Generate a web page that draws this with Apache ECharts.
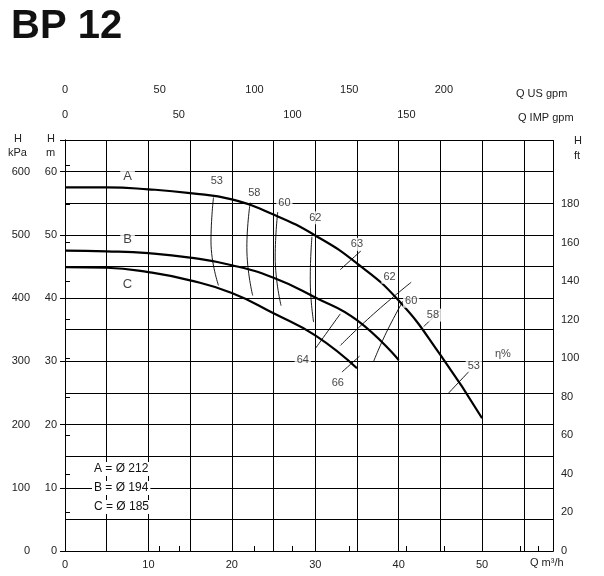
<!DOCTYPE html>
<html><head><meta charset="utf-8">
<script src="https://cdn.jsdelivr.net/npm/echarts@6/dist/echarts.min.js"></script>
<style>html,body{margin:0;background:#fff}#c{width:604px;height:576px}</style>
</head><body><div id="c"></div>
<script>
const curveA=[[0,57.5],[5,57.5],[10,57.2],[15,56.6],[20,55.6],[25,53.2],[30,49.9],[35,45.5],[40,39.6],[45,31],[50,21]];
const curveB=[[0,47.5],[5,47.4],[10,47.1],[15,46.4],[20,45.2],[25,43.2],[30,40.1],[35,36.5],[40,30.2]];
const curveC=[[0,44.9],[5,44.8],[10,44.1],[15,42.8],[20,40.8],[25,37.6],[30,34.1],[35,28.9]];
const eff53a=[[17.8,55.9],[17.5,49],[18.4,42]];
const eff58a=[[22.2,55.1],[21.8,48],[22.5,40.4]];
const eff60a=[[25.5,53.6],[25.2,46.5],[25.9,38.8]];
const eff62a=[[29.6,49.7],[29.4,43],[29.8,36.2]];
const eff63=[[33,44.5],[35.5,47.5]];
const eff64=[[30,32],[33,37.5]];
const eff66=[[33.2,28.3],[35.3,30.8]];
const eff62b=[[41.5,42.5],[37,37.5],[33,32.5]];
const eff60b=[[40.5,39.5],[38.5,34.5],[37,30]];
const eff58c=[[43,35.5],[45,38]];
const eff53c=[[46,25],[48.5,28.5]];
const effLabels=[[18.2,58.5,'53'],[22.7,56.7,'58'],[26.3,55,'60'],[30,52.7,'62'],[35,48.5,'63'],[28.5,30.2,'64'],[32.7,26.5,'66'],[38.9,43.3,'62'],[41.5,39.5,'60'],[44.1,37.3,'58'],[49,29.3,'53']];
const curveNames=[[7.5,59.3,'A'],[7.5,49.3,'B'],[7.5,42.2,'C']];
const legendLines=['A = Ø 212','B = Ø 194','C = Ø 185'];
const qMax=58.5,hMax=65;

const chart=echarts.init(document.getElementById('c'));
const F='Liberation Sans, Arial, sans-serif';
const lineS=(d,w)=>({type:'line',data:d,smooth:true,symbol:'none',lineStyle:{color:'#000',width:w},xAxisIndex:0,yAxisIndex:0,silent:true});
const ax={axisLine:{show:true,lineStyle:{color:'#000'}},axisTick:{lineStyle:{color:'#000'}},axisLabel:{color:'#222',fontFamily:F,fontSize:11},splitLine:{show:false}};
const lim=m=>v=>v<=m?v:'';
const txt=(t,x,y,extra)=>({type:'text',left:x,top:y,style:{text:t,font:'11px '+F,fill:'#222',...(extra||{})},z:10});
chart.setOption({
 animation:false,
 title:{text:'BP 12',left:6,top:2,textStyle:{fontFamily:F,fontSize:40,fontWeight:'bold',color:'#111'}},
 grid:{left:65,right:51,top:140,bottom:25},
 xAxis:[
  {...ax,type:'value',min:0,max:qMax,interval:5,position:'bottom',
   axisLabel:{...ax.axisLabel,showMaxLabel:false,formatter:v=>v%10===0?v:''},
   axisTick:{show:false},
   splitLine:{show:true,lineStyle:{color:'#000',width:1}}},
  {...ax,type:'value',min:0,max:qMax*4.403,interval:50,position:'top',offset:37,
   axisLabel:{...ax.axisLabel,formatter:lim(200)}},
  {...ax,type:'value',min:0,max:qMax*3.666,interval:50,position:'top',offset:12,
   axisLabel:{...ax.axisLabel,formatter:lim(150)}}
 ],
 yAxis:[
  {...ax,type:'value',min:0,max:hMax,interval:5,position:'left',
   axisLabel:{...ax.axisLabel,showMaxLabel:false,formatter:v=>v%10===0?v:''},axisTick:{show:false},
   splitLine:{show:true,lineStyle:{color:'#000',width:1}}},
  {...ax,type:'value',min:0,max:hMax*10,interval:100,position:'left',offset:27,axisLine:{show:false},
   axisLabel:{...ax.axisLabel,formatter:lim(600)}},
  {...ax,type:'value',min:0,max:hMax*3.281,interval:20,position:'right',
   axisLabel:{...ax.axisLabel,formatter:lim(180)}}
 ],
 series:[
  lineS(curveA,2.2),lineS(curveB,2.2),lineS(curveC,2.2),
  ...[eff53a,eff58a,eff60a,eff62a,eff63,eff64,eff66,eff62b,eff60b,eff58c,eff53c].map(d=>lineS(d,0.9)),
  {type:'scatter',symbolSize:0,silent:true,data:effLabels.map(e=>[e[0],e[1],e[2]]),
   label:{show:true,formatter:p=>p.data[2],color:'#111',fontFamily:F,fontSize:11,backgroundColor:'#fff',padding:[1,2]},z:5},
  {type:'scatter',symbolSize:0,silent:true,data:curveNames.map(e=>[e[0],e[1],e[2]]),
   label:{show:true,formatter:p=>p.data[2],color:'#111',fontFamily:F,fontSize:13,backgroundColor:'#fff',padding:[1,3]},z:5},
  {type:'scatter',symbolSize:0,silent:true,data:[[52.5,31.2,'η%']],
   label:{show:true,formatter:p=>p.data[2],color:'#111',fontFamily:F,fontSize:11,backgroundColor:'#fff'},z:5}
 ],
 graphic:[
  ...legendLines.map((t,i)=>({type:'text',left:92,top:462+i*19,style:{text:t,font:'12px '+F,fill:'#111',backgroundColor:'#fff',padding:[1,2]},z:10})),
  txt('H',14,133),txt('kPa',8,147),txt('H',47,133),txt('m',46,147),
  txt('H',574,135),txt('ft',574,150),
  txt('Q US gpm',516,88),txt('Q IMP gpm',518,112),
  txt('Q m³/h',530,557)
 ]
});
</script></body></html>
